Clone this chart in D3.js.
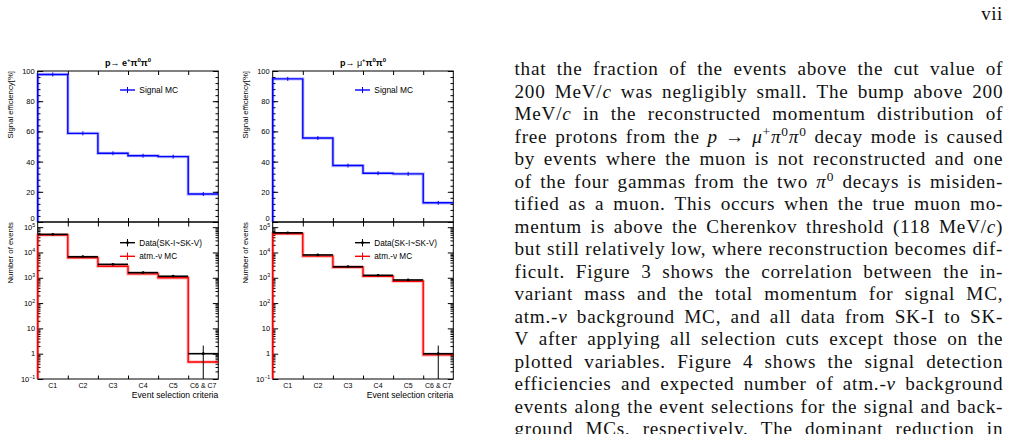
<!DOCTYPE html>
<html>
<head>
<meta charset="utf-8">
<script src="https://cdn.jsdelivr.net/npm/d3@7"></script>
<style>
  body { margin: 0; background: #fff; }
  svg text { font-family: "Liberation Sans", Arial, sans-serif; }
  .para text { font-family: "Liberation Serif", "Times New Roman", serif; fill: #111; }
</style>
</head>
<body>
<svg id="page" width="1012" height="434"></svg>
<script>
// ---- data ----
const categories = ["C1", "C2", "C3", "C4", "C5", "C6 & C7"];

// signal efficiency [%] after each cut
const effEpi  = [97.7, 58.7, 45.5, 43.9, 43.3, 18.5];
const effMupi = [94.8, 55.6, 37.4, 32.3, 31.9, 12.7];

// number of events (data SK-I~SK-V, atm.-nu MC)
const dataEpi  = [52000, 6800, 3400, 1600, 1150, 1];
const mcEpi    = [49000, 6200, 2850, 1420, 1000, 0.47];
const dataMupi = [60000, 8000, 2750, 1250, 820, 1];
const mcMupi   = [55000, 7200, 2600, 1150, 730, 0.9];

const effTicks = [0, 20, 40, 60, 80, 100];
const logTicks = [0.1, 1, 10, 100, 1000, 10000, 100000];
const logLabels = [["10", "\u22121"], ["1", ""], ["10", ""], ["10", "2"], ["10", "3"], ["10", "4"], ["10", "5"]];

const paragraph = [
  "that the fraction of the events above the cut value of",
  "200 MeV/<i>c</i> was negligibly small. The bump above 200",
  "MeV/<i>c</i> in the reconstructed momentum distribution of",
  "free protons from the <i>p</i>\u2004\u2192\u2004<i>\u03bc</i><sup>+</sup><i>\u03c0</i><sup>0</sup><i>\u03c0</i><sup>0</sup> decay mode is caused",
  "by events where the muon is not reconstructed and one",
  "of the four gammas from the two <i>\u03c0</i><sup>0</sup> decays is misiden-",
  "tified as a muon. This occurs when the true muon mo-",
  "mentum is above the Cherenkov threshold (118 MeV/<i>c</i>)",
  "but still relatively low, where reconstruction becomes dif-",
  "ficult. Figure 3 shows the correlation between the in-",
  "variant mass and the total momentum for signal MC,",
  "atm.-<i>\u03bd</i> background MC, and all data from SK-I to SK-",
  "V after applying all selection cuts except those on the",
  "plotted variables. Figure 4 shows the signal detection",
  "efficiencies and expected number of atm.-<i>\u03bd</i> background",
  "events along the event selections for the signal and back-",
  "ground MCs, respectively. The dominant reduction in"
];

const svg = d3.select("#page");

function styleAxis(g, size) {
  g.attr("font-size", size).attr("font-family", "Liberation Sans, Arial, sans-serif");
  g.select(".domain").remove();
  g.selectAll("line").attr("stroke", "#000");
}

function panel(dx, titleParts, eff, data, mc) {
  const g = svg.append("g").attr("transform", `translate(${dx},0)`);
  const x0 = 37.7, x1 = 218.3;
  const xBand = d3.scaleBand().domain(categories).range([x0, x1]);
  const xEdge = d3.scaleLinear().domain([0, categories.length]).range([x0, x1]);
  const yEff = d3.scaleLinear().domain([0, 100]).range([222, 71]);
  const yLog = d3.scaleLog().domain([0.1, 1.6e5]).range([379, 222]);
  const bw = xBand.bandwidth();
  const edges = d3.range(1, categories.length);

  // ---------- upper pad: efficiency ----------
  g.append("g").attr("transform", `translate(${x0},0)`)
    .call(d3.axisLeft(yEff).tickValues(effTicks).tickSizeInner(-5.5).tickSizeOuter(0).tickPadding(3))
    .call(a => styleAxis(a, 7.5))
    .call(a => a.selectAll("text").filter(d => d === 0).attr("y", -4));
  g.append("g").attr("transform", `translate(${x0},0)`)
    .call(d3.axisLeft(yEff).tickValues(d3.range(0, 101, 4)).tickSizeInner(-2.8).tickSizeOuter(0).tickFormat(""))
    .call(a => styleAxis(a, 7));
  g.append("g").attr("transform", `translate(${x1},0)`)
    .call(d3.axisRight(yEff).tickValues(effTicks).tickSizeInner(-5.5).tickSizeOuter(0).tickFormat(""))
    .call(a => styleAxis(a, 7));
  g.append("g").attr("transform", `translate(${x1},0)`)
    .call(d3.axisRight(yEff).tickValues(d3.range(0, 101, 4)).tickSizeInner(-2.8).tickSizeOuter(0).tickFormat(""))
    .call(a => styleAxis(a, 7));
  g.append("g").attr("transform", `translate(0,222)`)
    .call(d3.axisBottom(xEdge).tickValues(edges).tickSizeInner(-4).tickSizeOuter(0).tickFormat(""))
    .call(a => styleAxis(a, 7));
  g.append("g").attr("transform", `translate(0,71)`)
    .call(d3.axisTop(xEdge).tickValues(edges).tickSizeInner(-4).tickSizeOuter(0).tickFormat(""))
    .call(a => styleAxis(a, 7));

  g.append("rect").attr("x", x0).attr("y", 71).attr("width", x1 - x0).attr("height", 151)
    .attr("fill", "none").attr("stroke", "#000").attr("stroke-width", 1);

  const stepEff = d3.line().x(d => xEdge(d[0])).y(d => yEff(d[1])).curve(d3.curveStepAfter);
  const effPts = [[0, 0], ...eff.map((v, i) => [i, v]), [eff.length, eff[eff.length - 1]]];
  g.append("path").attr("d", stepEff(effPts)).attr("fill", "none")
    .attr("stroke", "#0000ff").attr("stroke-opacity", 0.25).attr("stroke-width", 3.2);
  g.append("path").attr("d", stepEff(effPts)).attr("fill", "none")
    .attr("stroke", "#0000ff").attr("stroke-width", 1.4);
  g.selectAll(".efferr").data(eff).enter().append("line")
    .attr("x1", (d, i) => xBand(categories[i]) + bw / 2)
    .attr("x2", (d, i) => xBand(categories[i]) + bw / 2)
    .attr("y1", d => yEff(d) - 2).attr("y2", d => yEff(d) + 2)
    .attr("stroke", "#0000ff").attr("stroke-width", 1);

  // title
  const t = g.append("text").attr("x", (x0 + x1) / 2).attr("y", 65.5)
    .attr("text-anchor", "middle").attr("font-size", 9).attr("font-weight", "bold");
  titleParts.forEach(p => {
    const s = t.append("tspan").text(p[0]);
    if (p[1] === "sup") s.attr("dy", -3.5).attr("font-size", 6);
    else if (p[1] === "back") s.attr("dy", 3.5);
    if (p[2]) s.attr("font-weight", "normal");
  });

  g.append("text").attr("transform", "translate(13,71) rotate(-90)")
    .attr("text-anchor", "end").attr("font-size", 7.8).text("Signal efficiency[%]");

  // legend
  g.append("line").attr("x1", 120).attr("x2", 135).attr("y1", 90).attr("y2", 90)
    .attr("stroke", "#0000ff").attr("stroke-width", 1.4);
  g.append("line").attr("x1", 127.5).attr("x2", 127.5).attr("y1", 87).attr("y2", 93)
    .attr("stroke", "#0000ff").attr("stroke-width", 1);
  g.append("text").attr("x", 139.3).attr("y", 93).attr("font-size", 8.4).text("Signal MC");

  // ---------- lower pad: number of events ----------
  const minors = [];
  logTicks.slice(0, -1).forEach(d => d3.range(2, 10).forEach(k => { if (d * k <= 1.6e5) minors.push(d * k); }));

  g.append("g").attr("transform", `translate(${x0},0)`)
    .call(d3.axisLeft(yLog).tickValues(logTicks).tickSizeInner(-5.5).tickSizeOuter(0).tickFormat(""))
    .call(a => styleAxis(a, 7));
  g.append("g").attr("transform", `translate(${x0},0)`)
    .call(d3.axisLeft(yLog).tickValues(minors).tickSizeInner(-2.8).tickSizeOuter(0).tickFormat(""))
    .call(a => styleAxis(a, 7));
  g.append("g").attr("transform", `translate(${x1},0)`)
    .call(d3.axisRight(yLog).tickValues(logTicks).tickSizeInner(-5.5).tickSizeOuter(0).tickFormat(""))
    .call(a => styleAxis(a, 7));
  g.append("g").attr("transform", `translate(${x1},0)`)
    .call(d3.axisRight(yLog).tickValues(minors).tickSizeInner(-2.8).tickSizeOuter(0).tickFormat(""))
    .call(a => styleAxis(a, 7));
  g.append("g").attr("transform", `translate(0,379)`)
    .call(d3.axisBottom(xEdge).tickValues(edges).tickSizeInner(-3.5).tickSizeOuter(0).tickFormat(""))
    .call(a => styleAxis(a, 7));
  g.append("g").attr("transform", `translate(0,222)`)
    .call(d3.axisTop(xEdge).tickValues(edges).tickSizeInner(-4.5).tickSizeOuter(0).tickFormat(""))
    .call(a => styleAxis(a, 7));
  g.append("g").attr("transform", `translate(0,379)`)
    .call(d3.axisBottom(xBand).tickSize(0).tickPadding(4.5))
    .call(a => styleAxis(a, 7));

  const lab = g.selectAll(".loglab").data(logTicks).enter().append("text")
    .attr("x", x0 - 2.5).attr("y", d => yLog(d) + 2.7)
    .attr("text-anchor", "end").attr("font-size", 7.5);
  lab.each(function (d, i) {
    const el = d3.select(this);
    el.append("tspan").text(logLabels[i][0]);
    if (logLabels[i][1]) el.append("tspan").attr("dy", -3.2).attr("font-size", 5.2).text(logLabels[i][1]);
  });

  g.append("rect").attr("x", x0).attr("y", 222).attr("width", x1 - x0).attr("height", 157)
    .attr("fill", "none").attr("stroke", "#000").attr("stroke-width", 1);

  // MC step histogram
  const stepLog = d3.line().x(d => xEdge(d[0])).y(d => yLog(d[1])).curve(d3.curveStepAfter);
  const mcPts = [[0, 0.1], ...mc.map((v, i) => [i, v]), [mc.length, mc[mc.length - 1]]];
  g.append("path").attr("d", stepLog(mcPts)).attr("fill", "none")
    .attr("stroke", "#ff0000").attr("stroke-opacity", 0.3).attr("stroke-width", 3.2);
  g.append("path").attr("d", stepLog(mcPts)).attr("fill", "none")
    .attr("stroke", "#ff0000").attr("stroke-width", 1.4);

  // data points with x and y error bars
  const cx = (d, i) => xBand(categories[i]) + bw / 2;
  g.selectAll(".dx").data(data).enter().append("line")
    .attr("x1", (d, i) => xBand(categories[i])).attr("x2", (d, i) => xBand(categories[i]) + bw)
    .attr("y1", d => yLog(d)).attr("y2", d => yLog(d))
    .attr("stroke", "#000").attr("stroke-width", 1.6);
  g.selectAll(".dy").data(data).enter().append("line")
    .attr("x1", cx).attr("x2", cx)
    .attr("y1", d => yLog(d + Math.sqrt(d)) - 0.5)
    .attr("y2", d => (d - Math.sqrt(d)) > 0.1 ? yLog(d - Math.sqrt(d)) + 0.5 : 379)
    .attr("stroke", "#000").attr("stroke-width", 1);
  g.selectAll(".dp").data(data).enter().append("circle")
    .attr("cx", cx).attr("cy", d => yLog(d)).attr("r", 1.4).attr("fill", "#000");

  g.append("text").attr("transform", "translate(13,222) rotate(-90)")
    .attr("text-anchor", "end").attr("font-size", 7.8).text("Number of events");
  g.append("text").attr("x", x1).attr("y", 398).attr("text-anchor", "end")
    .attr("font-size", 8.6).text("Event selection criteria");

  // legend
  g.append("line").attr("x1", 120).attr("x2", 135).attr("y1", 242.7).attr("y2", 242.7)
    .attr("stroke", "#000").attr("stroke-width", 1.4);
  g.append("line").attr("x1", 127.5).attr("x2", 127.5).attr("y1", 239).attr("y2", 246.4)
    .attr("stroke", "#000").attr("stroke-width", 1);
  g.append("circle").attr("cx", 127.5).attr("cy", 242.7).attr("r", 1.4).attr("fill", "#000");
  g.append("text").attr("x", 139.3).attr("y", 245.6).attr("font-size", 8.2).text("Data(SK-I~SK-V)");
  g.append("line").attr("x1", 120).attr("x2", 135).attr("y1", 256.3).attr("y2", 256.3)
    .attr("stroke", "#ff0000").attr("stroke-width", 1.4);
  g.append("line").attr("x1", 127.5).attr("x2", 127.5).attr("y1", 252.6).attr("y2", 260)
    .attr("stroke", "#ff0000").attr("stroke-width", 1);
  g.append("text").attr("x", 139.3).attr("y", 259.2).attr("font-size", 8.2).text("atm.-\u03bd MC");
}

panel(0, [["p\u2192 e"], ["+", "sup"], ["\u03c0", "back"], ["0", "sup"], ["\u03c0", "back"], ["0", "sup"]],
      effEpi, dataEpi, mcEpi);
panel(235, [["p\u2192 "], ["\u03bc", null, true], ["+", "sup"], ["\u03c0", "back"], ["0", "sup"], ["\u03c0", "back"], ["0", "sup"]],
      effMupi, dataMupi, mcMupi);

// ---------- page text ----------
const para = svg.append("g").attr("class", "para");
para.append("text").attr("x", 1003).attr("y", 20).attr("text-anchor", "end")
  .attr("font-size", 19).attr("letter-spacing", 0.6).text("vii");

const left = 514.5, right = 1002.5, base0 = 75.0, lead = 22.5, fs = 19.2;

function fillWord(el, word) {
  const re = /<(i|sup)>(.*?)<\/\1>|[^<]+/g;
  let m, raised = false;
  while ((m = re.exec(word)) !== null) {
    const s = el.append("tspan");
    if (m[1] === "i") {
      s.attr("font-style", "italic").text(m[2]);
      if (raised) { s.attr("dy", 6.5); raised = false; }
    } else if (m[1] === "sup") {
      s.attr("font-size", fs * 0.7).attr("dy", raised ? 0 : -6.5).text(m[2]);
      raised = true;
    } else {
      s.text(m[0]);
      if (raised) { s.attr("dy", 6.5); raised = false; }
    }
  }
}

paragraph.forEach((line, li) => {
  const y = base0 + li * lead;
  const words = line.split(" ");
  const nodes = words.map(w => {
    const el = para.append("text").attr("y", y).attr("font-size", fs).attr("letter-spacing", 0.75);
    fillWord(el, w);
    return el;
  });
  // drop the trailing letter-spacing of each word from its measured width
  const widths = nodes.map(n => n.node().getComputedTextLength() - 0.75);
  const gap = (right - left - d3.sum(widths)) / (words.length - 1);
  let x = left;
  nodes.forEach((n, i) => { n.attr("x", x); x += widths[i] + gap; });
});
</script>
</body>
</html>
